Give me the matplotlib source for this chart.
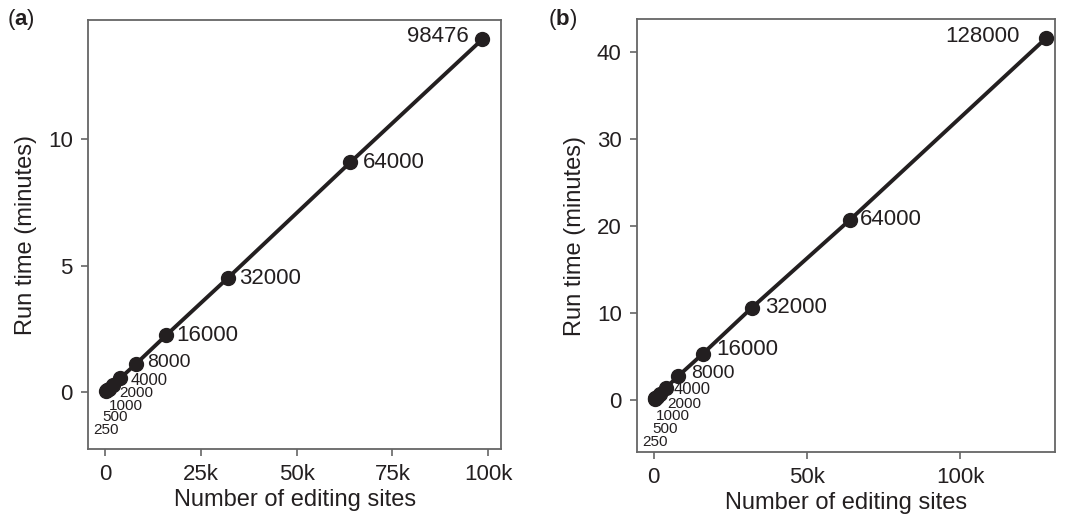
import matplotlib
matplotlib.use('Agg')
import matplotlib.pyplot as plt

plt.rcParams['font.family'] = ['Liberation Sans', 'DejaVu Sans']
plt.rcParams['mathtext.fontset'] = 'custom'
plt.rcParams['mathtext.rm'] = 'Liberation Sans'
plt.rcParams['mathtext.bf'] = 'Liberation Sans:bold'

# data
sites_a = [250, 500, 1000, 2000, 4000, 8000, 16000, 32000, 64000, 98476]
time_a = [0.035, 0.07, 0.14, 0.28, 0.55, 1.1, 2.25, 4.5, 9.08, 13.95]
sites_b = [250, 500, 1000, 2000, 4000, 8000, 16000, 32000, 64000, 128000]
time_b = [0.08, 0.17, 0.35, 0.7, 1.4, 2.75, 5.3, 10.6, 20.7, 41.6]

xticks_a = [0, 25000, 50000, 75000, 100000]
xtick_labels_a = ['0', '25k', '50k', '75k', '100k']
yticks_a = [0, 5, 10]
xticks_b = [0, 50000, 100000]
xtick_labels_b = ['0', '50k', '100k']
yticks_b = [0, 10, 20, 30, 40]

# label offsets in pixels, dy upwards (dx, dy, ha, fontsize)
offs_a = [(0, -39, 'center', 11), (8, -27, 'center', 11), (17, -17, 'center', 11),
          (24, -8, 'center', 11), (10, -2, 'left', 12), (12, 2, 'left', 14),
          (10, 0, 'left', 16), (12, 0, 'left', 16), (13, 0, 'left', 16), (-14, 3, 'right', 16)]
offs_b = [(0, -43, 'center', 11), (10, -31, 'center', 11), (16, -19, 'center', 11),
          (24, -10, 'center', 11), (8, -2, 'left', 12), (13, 2, 'left', 14),
          (13, 4, 'left', 16), (13, 0, 'left', 16), (10, 0, 'left', 16), (-26, 2, 'right', 16)]

ink = '#231f20'
edge = '#666666'

fig = plt.figure(figsize=(10.68, 5.16), dpi=100)
ax_a = fig.add_axes([0.0824, 0.1298, 0.387, 0.831])
ax_b = fig.add_axes([0.5964, 0.124, 0.391, 0.839])


def draw(ax, x, y, offs, xt, xtl, yt, xlim, ylim):
    ax.plot(x, y, '-o', color=ink, lw=2.8, ms=10, clip_on=False, zorder=3)
    for xi, yi, (dx, dy, ha, fs) in zip(x, y, offs):
        ax.annotate(str(xi), (xi, yi), xytext=(dx, dy), textcoords='offset pixels',
                    ha=ha, va='center', fontsize=fs, color=ink)
    ax.set_xlim(*xlim)
    ax.set_ylim(*ylim)
    ax.set_xticks(xt)
    ax.set_xticklabels(xtl)
    ax.set_yticks(yt)
    ax.tick_params(labelsize=16, colors=edge, labelcolor=ink, length=5, width=1.2, pad=6)
    for s in ax.spines.values():
        s.set_color(edge)
        s.set_linewidth(1.3)
    ax.set_xlabel('Number of editing sites', fontsize=17, color=ink, labelpad=3)
    ax.set_ylabel('Run time (minutes)', fontsize=17, color=ink, labelpad=8)


draw(ax_a, sites_a, time_a, offs_a, xticks_a, xtick_labels_a, yticks_a,
     (-4400, 103400), (-2.25, 14.7))
draw(ax_b, sites_b, time_b, offs_b, xticks_b, xtick_labels_b, yticks_b,
     (-5500, 130800), (-6.0, 43.8))

fig.text(0.007, 0.963, r'($\mathbf{a}$)', fontsize=16, color=ink, va='center')
fig.text(0.513, 0.963, r'($\mathbf{b}$)', fontsize=16, color=ink, va='center')

fig.savefig('out.png', dpi=100)
